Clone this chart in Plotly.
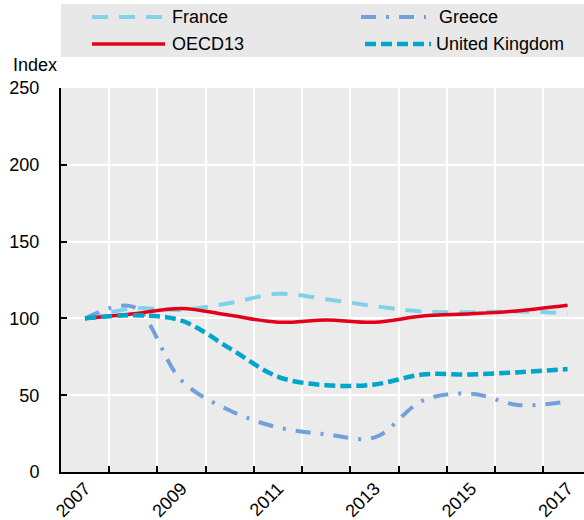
import plotly.graph_objects as go

# --- data ---
years = [2007, 2008, 2009, 2010, 2011, 2012, 2013, 2014, 2015, 2016, 2017]
year_labels = ["2007", "2009", "2011", "2013", "2015", "2017"]

france = [100, 106.5, 105.5, 110, 116, 112.5, 108, 104.5, 104, 104.5, 103.3]
greece = [100, 107.5, 59.5, 40, 29, 24.5, 22.5, 46.5, 51, 43.5, 46]
oecd13 = [100, 103, 106.5, 102, 97.5, 99, 97.5, 101.5, 103, 105, 108.5]
uk = [100, 102, 98.5, 80.5, 62, 56.5, 57, 63.5, 63.5, 65, 67]

names = ["France", "Greece", "OECD13", "United Kingdom"]
series = [france, greece, oecd13, uk]

styles = {
    "France": dict(color="#80d2ea", width=4, dash="16px,11px"),
    "Greece": dict(color="#72a0dc", width=4, dash="15px,10px,3px,10px"),
    "OECD13": dict(color="#e3001b", width=3.5, dash="solid"),
    "United Kingdom": dict(color="#00a6c9", width=4.5, dash="11px,5px"),
}

W, H = 584, 520
L, R, T, B = 61, 0, 88, 48
PW, PH = W - L - R, H - T - B


def px(x):
    return (x - L) / PW


def py(y):
    return (H - B - y) / PH


fig = go.Figure()
for name, vals in zip(names, series):
    fig.add_trace(go.Scatter(
        x=years, y=vals, name=name, mode="lines",
        line=dict(shape="spline", smoothing=1, **styles[name]),
        showlegend=False,
    ))

# hand-made legend box (wide swatches like the original)
shapes = [dict(type="rect", xref="paper", yref="paper",
               x0=px(61), x1=px(584), y0=py(57), y1=py(4),
               fillcolor="#e8e8e8", line=dict(width=0), layer="below")]
annotations = []
legend_pos = {
    "France": (92, 165, 17, 170),
    "OECD13": (92, 165, 44, 170),
    "Greece": (361, 426, 17, 437),
    "United Kingdom": (365, 431, 44, 434),
}
for name in names:
    x0, x1, yy, xt = legend_pos[name]
    shapes.append(dict(type="line", xref="paper", yref="paper",
                       x0=px(x0), x1=px(x1), y0=py(yy), y1=py(yy),
                       line=styles[name]))
    annotations.append(dict(text=name, xref="paper", yref="paper",
                            x=px(xt), y=py(yy), xanchor="left", yanchor="middle",
                            showarrow=False, font=dict(size=18, color="black")))

annotations.append(dict(text="Index", xref="paper", yref="paper",
                        x=px(11), y=py(65), xanchor="left", yanchor="middle",
                        showarrow=False, font=dict(size=18, color="black")))

fig.update_layout(
    width=W, height=H,
    margin=dict(l=L, r=R, t=T, b=B, pad=0),
    plot_bgcolor="#ebebeb",
    paper_bgcolor="white",
    font=dict(family="Arial, Liberation Sans, sans-serif", size=18, color="black"),
    shapes=shapes,
    annotations=annotations,
    showlegend=False,
)

fig.update_xaxes(
    range=[2006.5, 2017.34], automargin=False,
    tickvals=years[::2], ticktext=year_labels, tickangle=-45,
    ticks="", showgrid=False, zeroline=False, ticklabelstandoff=-3,
    showline=True, linecolor="black", linewidth=2,
    minor=dict(tickvals=[y + 0.5 for y in years[:-1]], ticks="inside",
               ticklen=6, tickcolor="black", tickwidth=1.5,
               showgrid=True, gridcolor="white", gridwidth=1.5),
)
fig.update_yaxes(
    range=[0, 250], tickvals=[0, 50, 100, 150, 200, 250], automargin=False,
    ticks="inside", ticklen=6, tickcolor="black", tickwidth=1.5,
    ticklabelstandoff=16,
    showgrid=True, gridcolor="white", gridwidth=1.5, zeroline=False,
    showline=True, linecolor="black", linewidth=2,
)

# page body has a default 8px margin; drop it so the figure fills the window
fig.write_html("out.html", config={"displayModeBar": False},
               post_script="document.body.style.margin='0';")
